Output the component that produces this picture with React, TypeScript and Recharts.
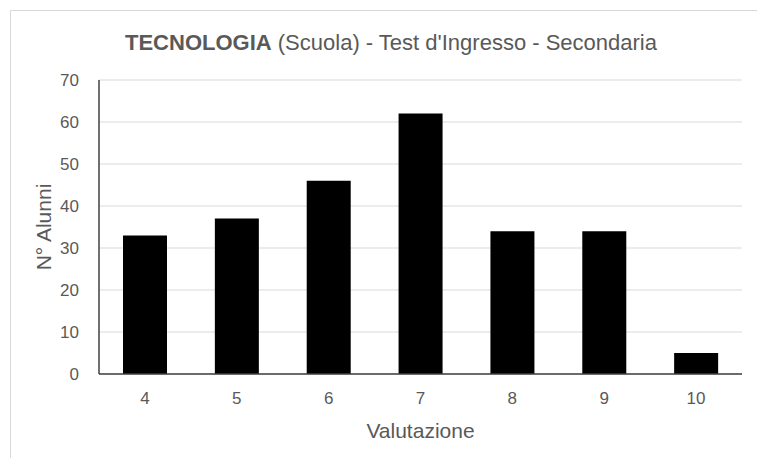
import { Bar, BarChart, CartesianGrid, Label, XAxis, YAxis } from "recharts"

const categories = ["4", "5", "6", "7", "8", "9", "10"]
const students = [33, 37, 46, 62, 34, 34, 5]
const yTicks = [0, 10, 20, 30, 40, 50, 60, 70]

const data = categories.map((c, i) => ({ voto: c, alunni: students[i] }))

const FONT = "'Liberation Sans', Arial, sans-serif"
const TEXT = "#595959"

export default function App() {
  return (
    <div
      style={{
        position: "fixed",
        left: 0,
        top: 0,
        width: 757,
        height: 458,
        background: "#fff",
        fontFamily: FONT,
        overflow: "hidden",
      }}
    >
      <div
        style={{
          position: "absolute",
          left: 10,
          top: 10,
          right: -2,
          bottom: -2,
          borderTop: "1px solid #d9d9d9",
          borderLeft: "1px solid #d9d9d9",
        }}
      />
      <div
        style={{
          position: "absolute",
          left: 0,
          width: 782,
          top: 30,
          textAlign: "center",
          fontSize: 22,
          color: TEXT,
        }}
      >
        <b>TECNOLOGIA</b> (Scuola) - Test d'Ingresso - Secondaria
      </div>
      <div style={{ position: "absolute", left: 0, top: 0 }}>
        <BarChart
          width={757}
          height={458}
          data={data}
          margin={{ top: 80, right: 15, bottom: 0, left: 0 }}
        >
          <CartesianGrid vertical={false} stroke="#d9d9d9" />
          <XAxis
            dataKey="voto"
            height={84}
            axisLine={{ stroke: "#404040", strokeWidth: 1.5 }}
            tickLine={false}
            tick={{ fill: TEXT, fontSize: 17, fontFamily: FONT }}
            tickMargin={12}
          >
            <Label
              value="Valutazione"
              position="insideBottom"
              offset={20}
              style={{ fill: TEXT, fontSize: 21, fontFamily: FONT }}
            />
          </XAxis>
          <YAxis
            width={99}
            domain={[0, 70]}
            ticks={yTicks}
            axisLine={{ stroke: "#404040", strokeWidth: 1.5 }}
            tickLine={false}
            tick={{ fill: TEXT, fontSize: 17, fontFamily: FONT }}
            tickMargin={14}
          >
            <Label
              value="N° Alunni"
              angle={-90}
              position="insideLeft"
              offset={44}
              style={{ fill: TEXT, fontSize: 21, fontFamily: FONT, textAnchor: "middle" }}
            />
          </YAxis>
          <Bar dataKey="alunni" fill="#000" barSize={44} isAnimationActive={false} />
        </BarChart>
      </div>
    </div>
  )
}
